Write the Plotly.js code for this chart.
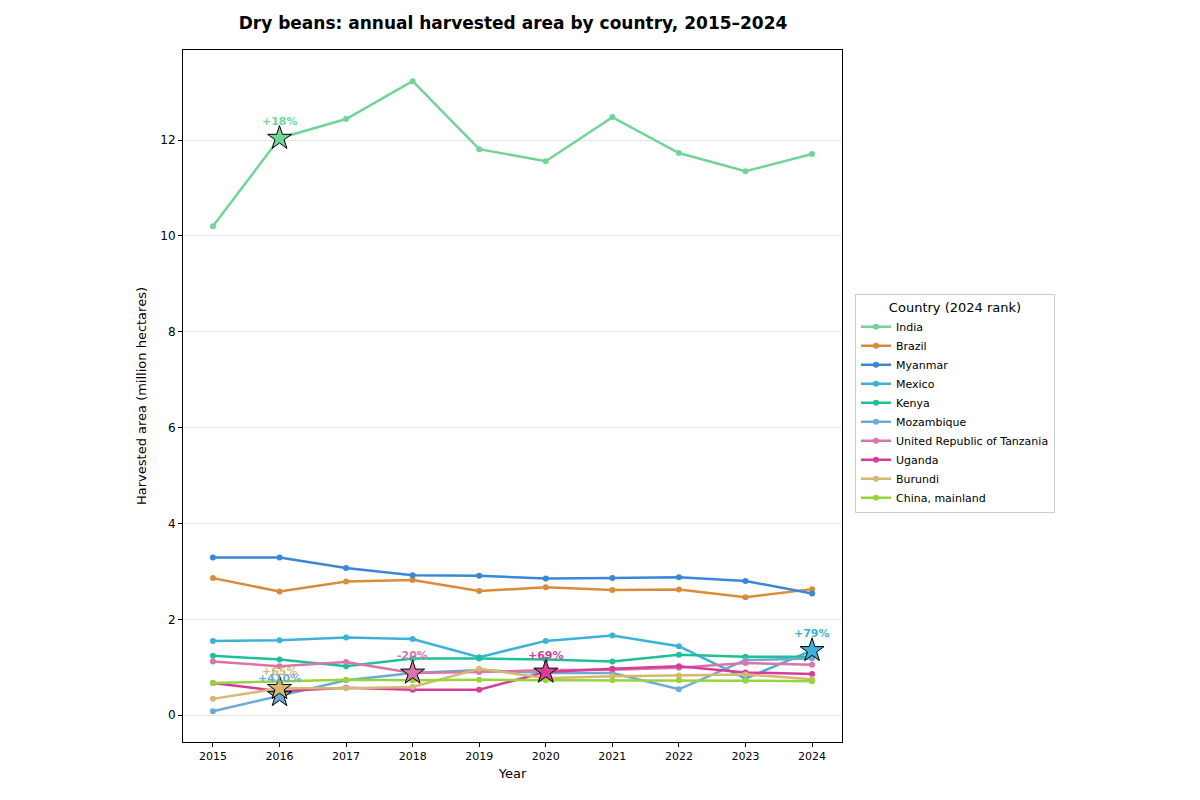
<!DOCTYPE html>
<html>
<head>
<meta charset="utf-8">
<script src="https://cdn.plot.ly/plotly-3.0.1.min.js"></script>
<style>body{margin:0;background:#fff}#chart{width:1200px;height:800px}</style>
</head>
<body>
<div id="chart"></div>
<script>
const years = [2015, 2016, 2017, 2018, 2019, 2020, 2021, 2022, 2023, 2024];
const countries = ["India", "Brazil", "Myanmar", "Mexico", "Kenya", "Mozambique",
  "United Republic of Tanzania", "Uganda", "Burundi", "China, mainland"];
const india      = [10.20, 12.04, 12.44, 13.23, 11.81, 11.56, 12.48, 11.73, 11.35, 11.71];
const brazil     = [2.86, 2.58, 2.79, 2.82, 2.59, 2.67, 2.61, 2.62, 2.46, 2.63];
const myanmar    = [3.29, 3.29, 3.07, 2.92, 2.91, 2.85, 2.86, 2.88, 2.80, 2.54];
const mexico     = [1.55, 1.565, 1.62, 1.59, 1.21, 1.55, 1.66, 1.44, 0.76, 1.35];
const kenya      = [1.24, 1.16, 1.02, 1.18, 1.18, 1.16, 1.12, 1.26, 1.22, 1.22];
const mozambique = [0.08, 0.41, 0.73, 0.88, 0.94, 0.88, 0.88, 0.54, 1.15, 1.18];
const tanzania   = [1.12, 1.02, 1.11, 0.88, 0.90, 0.94, 0.95, 0.99, 1.09, 1.05];
const uganda     = [0.67, 0.50, 0.57, 0.53, 0.53, 0.90, 0.97, 1.02, 0.89, 0.86];
const burundi    = [0.34, 0.56, 0.56, 0.59, 0.97, 0.77, 0.81, 0.83, 0.85, 0.75];
const china      = [0.67, 0.70, 0.74, 0.73, 0.74, 0.73, 0.73, 0.73, 0.72, 0.71];
const series = [india, brazil, myanmar, mexico, kenya, mozambique, tanzania, uganda, burundi, china];
const colors = ["#72d598", "#d98c3a", "#3987d8", "#3db2d6", "#1fbf98", "#6fa9d6",
  "#d875a9", "#d83c9a", "#d6b872", "#9ad43c"];

// highlighted points: country index, year, label
const hlCountry = [0, 5, 8, 6, 7, 3];
const hlYear    = [2016, 2016, 2016, 2018, 2020, 2024];
const hlLabel   = ["+18%", "+410%", "+65%", "-20%", "+69%", "+79%"];

const traces = series.map((s, i) => ({
  x: years, y: s, name: countries[i], type: "scatter", mode: "lines+markers",
  line: {color: colors[i], width: 2.5}, marker: {color: colors[i], size: 6}
}));
const annotations = [];
hlCountry.forEach((ci, k) => {
  const yi = years.indexOf(hlYear[k]);
  const yv = series[ci][yi];
  traces.push({
    x: [hlYear[k]], y: [yv], type: "scatter", mode: "markers", showlegend: false,
    marker: {symbol: "star", size: 18, color: colors[ci], line: {color: "#000", width: 1}}
  });
  annotations.push({
    x: hlYear[k], y: yv, xref: "x", yref: "y", text: "<b>" + hlLabel[k] + "</b>",
    showarrow: false, yshift: 17, font: {size: 11, color: colors[ci], family: "DejaVu Sans"}
  });
});

const layout = {
  width: 1200, height: 800,
  paper_bgcolor: "#fff", plot_bgcolor: "#fff",
  margin: {l: 183, r: 358, t: 50, b: 58},
  font: {family: "DejaVu Sans", size: 12, color: "#000"},
  title: {text: "<b>Dry beans: annual harvested area by country, 2015–2024</b>",
    font: {size: 17, family: "DejaVu Sans"}, x: 0.4275, xanchor: "center", y: 0.971, yanchor: "middle"},
  xaxis: {
    title: {text: "Year", font: {size: 13}, standoff: 6},
    range: [2014.55, 2024.45], tickvals: years, ticktext: years.map(String),
    showgrid: false, zeroline: false, showline: true, linecolor: "#000", linewidth: 1, mirror: true,
    ticks: "outside", ticklen: 4, tickcolor: "#000", tickfont: {size: 11}
  },
  yaxis: {
    title: {text: "Harvested area (million hectares)", font: {size: 13}, standoff: 10},
    range: [-0.56, 13.88], tickvals: [0, 2, 4, 6, 8, 10, 12],
    showgrid: true, gridcolor: "#e5e5e5", gridwidth: 1, zeroline: false,
    showline: true, linecolor: "#000", linewidth: 1, mirror: true,
    ticks: "outside", ticklen: 4, tickcolor: "#000", tickfont: {size: 12}
  },
  legend: {
    x: 1.0197, y: 0.647, xanchor: "left", yanchor: "top",
    bordercolor: "#cccccc", borderwidth: 1, bgcolor: "#fff",
    title: {text: "Country (2024 rank)", font: {size: 13}, side: "top center"},
    font: {size: 11}, tracegroupgap: 0, itemwidth: 30
  },
  annotations: annotations,
  showlegend: true
};
Plotly.newPlot("chart", traces, layout, {displayModeBar: false, staticPlot: true});
</script>
</body>
</html>
